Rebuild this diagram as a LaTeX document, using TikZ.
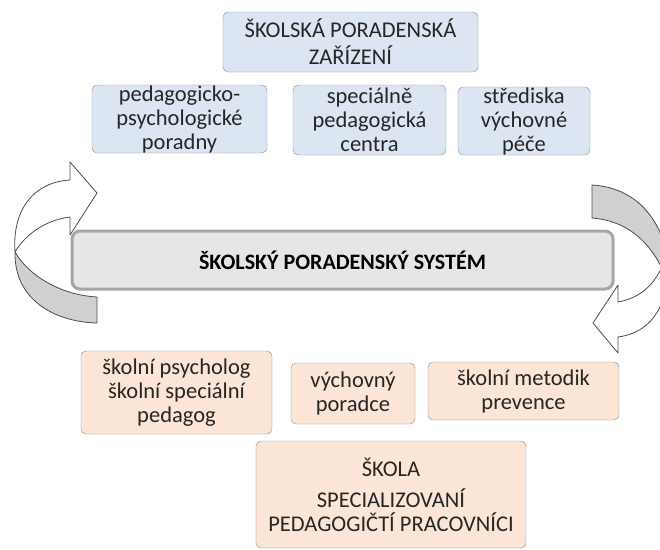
\documentclass[tikz,border=0pt]{standalone}
\usepackage{fontspec}
\setmainfont{Carlito}
\definecolor{boxblue}{HTML}{DCE6F2}
\definecolor{boxpeach}{HTML}{FBE5D6}
\definecolor{boxline}{HTML}{8C8C8C}
\definecolor{txtgray}{HTML}{262626}
\definecolor{barfill}{HTML}{E6E6E6}
\definecolor{barline}{HTML}{A6A6A6}
\definecolor{backgray}{HTML}{D0D0D0}
\tikzset{
  box/.style={draw=boxline, rounded corners=5pt, align=center, text=txtgray,
    inner sep=0pt, font=\fontsize{22.5}{24}\selectfont},
  topbox/.style={box, fill=boxblue},
  botbox/.style={box, fill=boxpeach},
  sysbox/.style={draw=barline, line width=3pt, fill=barfill, rounded corners=8pt,
    inner sep=0pt, font=\bfseries\fontsize{22}{24}\selectfont},
  ribbon/.style={draw=black!70, line width=0.8pt, line join=round},
}
\begin{document}
\begin{tikzpicture}[x=1pt,y=-1pt]
    \useasboundingbox (0,0) rectangle (660,549);
    \clip (0,0) rectangle (660,549);
    % skolska poradenska zarizeni
    \node[topbox, minimum width=255, minimum height=60] (zarizeni) at (350.5,42) {ŠKOLSKÁ PORADENSKÁ\\[3pt]ZAŘÍZENÍ};
    \node[topbox, minimum width=175, minimum height=68] (ppp) at (179.5,119) {pedagogicko-\\psychologické\\poradny};
    \node[topbox, minimum width=153, minimum height=70] (spc) at (369.5,120) {speciálně\\pedagogická\\centra};
    \node[topbox, minimum width=132, minimum height=68] (svp) at (524,121) {střediska\\výchovné\\péče};
    % system
    \node[sysbox, minimum width=541, minimum height=58] (system) at (342.5,260) {ŠKOLSKÝ PORADENSKÝ SYSTÉM};
    % left ribbon arrow
    \draw[ribbon, fill=backgray] (15,252) .. controls (28,275) and (60,295) .. (97,297)
        -- (97,323) .. controls (55,322) and (14,300) .. cycle;
    \draw[ribbon, fill=white] (70,180) .. controls (35,182) and (12,208) .. (15,252)
        .. controls (25,235) and (45,220) .. (70,217) -- (70,235) -- (97,193) -- (70,162) -- cycle;
    % right ribbon arrow
    \draw[ribbon, fill=backgray] (592,185) .. controls (625,187) and (652,205) .. (665,245)
        -- (665,275) .. controls (648,235) and (620,220) .. (592,218) -- cycle;
    \draw[ribbon, fill=white] (618,302) .. controls (640,298) and (655,285) .. (664,262)
        -- (670,262) -- (670,298) -- (664,298) .. controls (655,322) and (640,334) .. (618,337)
        -- (618,353) -- (593,323) -- (618,285) -- cycle;
    % skola
    \node[botbox, minimum width=191, minimum height=83] (psycholog) at (176.5,392.5) {školní psycholog\\školní speciální\\pedagog};
    \node[botbox, minimum width=124, minimum height=61] (poradce) at (353,393.5) {výchovný\\poradce};
    \node[botbox, minimum width=191, minimum height=58] (metodik) at (523.5,391) {školní metodik\\prevence};
    \node[botbox, minimum width=270, minimum height=107] (skola) at (391,494.5) {ŠKOLA\\[7pt]SPECIALIZOVANÍ\\PEDAGOGIČTÍ PRACOVNÍCI};
\end{tikzpicture}
\end{document}
